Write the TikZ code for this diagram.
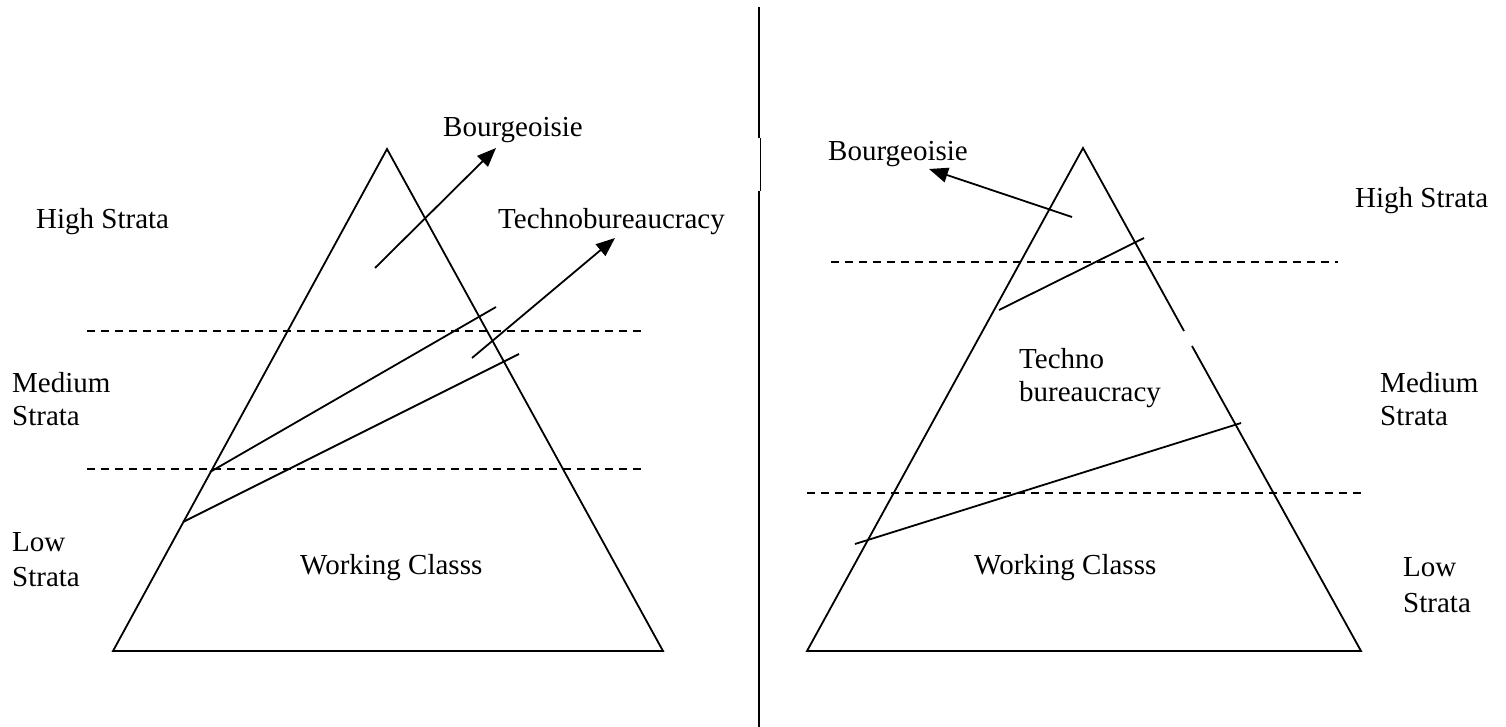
\documentclass[tikz,border=0pt]{standalone}
\usepackage{fontspec}
\setmainfont{Liberation Serif}
\usetikzlibrary{arrows.meta}
\begin{document}
\begin{tikzpicture}[x=1pt,y=-1pt,
  lbl/.style={inner sep=0pt,anchor=base west,font=\fontsize{29}{33}\selectfont},
  edge/.style={line width=1.8pt,line join=miter},
  stratum/.style={line width=1.8pt,dash pattern=on 8pt off 6pt},
  link/.style={line width=1.8pt},
  arr/.style={line width=1.8pt,-{Triangle[length=19pt,width=15pt]}}]
\useasboundingbox (0,0) rectangle (1506,727);
% divider
\coordinate (d0) at (759,7);
\coordinate (d1) at (759,138);
\coordinate (d2) at (760,138);
\coordinate (d3) at (760,191);
\coordinate (d4) at (759,191);
\coordinate (d5) at (759,727);
\draw[line width=2pt] (d0) -- (d1);
\draw[line width=0.8pt] (d2) -- (d3);
\draw[line width=2pt] (d4) -- (d5);
% ---------- left pyramid ----------
\coordinate (LA) at (387,149);
\coordinate (LB) at (113,651);
\coordinate (LC) at (663,651);
\draw[edge] (LA) -- (LB) -- (LC) -- cycle;
\coordinate (Lh1a) at (87,331);  \coordinate (Lh1b) at (641,331);
\coordinate (Lh2a) at (87,469);  \coordinate (Lh2b) at (641,469);
\draw[stratum] (Lh1a) -- (Lh1b);
\draw[stratum] (Lh2a) -- (Lh2b);
\coordinate (Ll1a) at (210,472); \coordinate (Ll1b) at (496,307);
\coordinate (Ll2a) at (183,522); \coordinate (Ll2b) at (519,354);
\draw[link] (Ll1a) -- (Ll1b);
\draw[link] (Ll2a) -- (Ll2b);
\coordinate (Lb0) at (375,268); \coordinate (Lb1) at (496,148);
\coordinate (Lt0) at (472,358); \coordinate (Lt1) at (615,238);
\draw[arr] (Lb0) -- (Lb1);
\draw[arr] (Lt0) -- (Lt1);
\node[lbl] (lbour) at (443,137) {Bourgeoisie};
\node[lbl] (ltech) at (498,229) {Technobureaucracy};
\node[lbl] (lhigh) at (36,229) {High Strata};
\node[lbl] (lmed1) at (12,392) {Medium};
\node[lbl] (lmed2) at (12,425) {Strata};
\node[lbl] (llow1) at (12,551) {Low};
\node[lbl] (llow2) at (12,586) {Strata};
\node[lbl] (lwork) at (300,574) {Working Classs};
% ---------- right pyramid ----------
\coordinate (RA) at (1083,148);
\coordinate (RB) at (807,651);
\coordinate (RC) at (1361,651);
\coordinate (Rg1) at (1184,331);
\coordinate (Rg2) at (1192,346);
\draw[edge] (Rg1) -- (RA) -- (RB) -- (RC) -- (Rg2);
\coordinate (Rh1a) at (831,262);  \coordinate (Rh1b) at (1338,262);
\coordinate (Rh2a) at (807,493);  \coordinate (Rh2b) at (1362,493);
\draw[stratum] (Rh1a) -- (Rh1b);
\draw[stratum] (Rh2a) -- (Rh2b);
\coordinate (Rl1a) at (999,310);  \coordinate (Rl1b) at (1144,238);
\coordinate (Rl2a) at (855,544);  \coordinate (Rl2b) at (1241,423);
\draw[link] (Rl1a) -- (Rl1b);
\draw[link] (Rl2a) -- (Rl2b);
\coordinate (Rb0) at (1072,217); \coordinate (Rb1) at (929,169);
\draw[arr] (Rb0) -- (Rb1);
\node[lbl] (rbour) at (828,161) {Bourgeoisie};
\node[lbl] (rhigh) at (1355,208) {High Strata};
\node[lbl] (rtec1) at (1019,368) {Techno};
\node[lbl] (rtec2) at (1019,401) {bureaucracy};
\node[lbl] (rmed1) at (1380,392) {Medium};
\node[lbl] (rmed2) at (1380,425) {Strata};
\node[lbl] (rwork) at (974,574) {Working Classs};
\node[lbl] (rlow1) at (1403,576) {Low};
\node[lbl] (rlow2) at (1403,612) {Strata};
\end{tikzpicture}
\end{document}
